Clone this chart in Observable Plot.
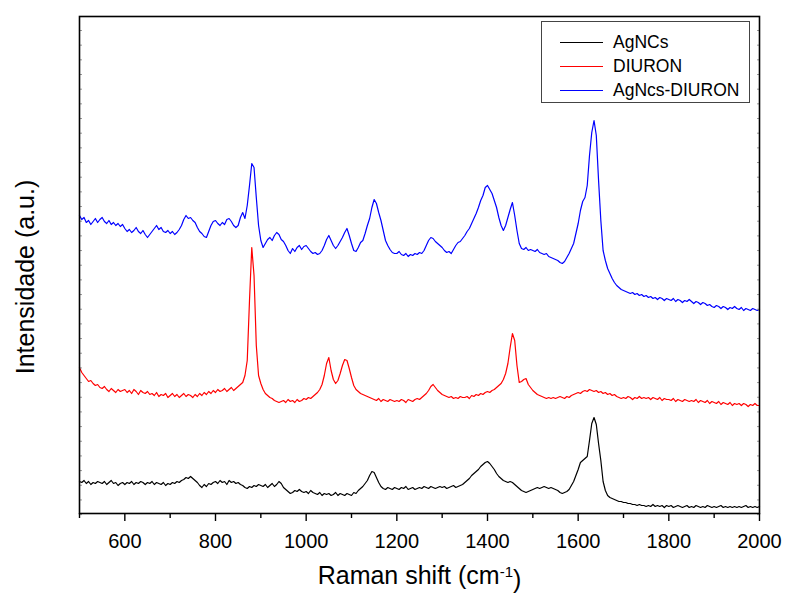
<!DOCTYPE html>
<html><head><meta charset="utf-8">
<script src="https://cdn.jsdelivr.net/npm/d3@7"></script>
<script src="https://cdn.jsdelivr.net/npm/@observablehq/plot@0.6"></script>
<style>
body{margin:0;background:#fff;font-family:"Liberation Sans",Arial,sans-serif;}
#wrap{position:relative;width:786px;height:595px;}
#legend{position:absolute;left:541px;top:21px;width:209px;height:82px;border:1px solid #444;background:#fff;box-sizing:border-box;}
.row{position:absolute;left:0;height:20px;display:flex;align-items:center;font-size:17.5px;color:#000;}
.sw{display:inline-block;width:43px;height:0;border-top:1px solid;margin-left:18px;margin-right:10px;}
</style>
</head><body>
<div id="wrap"><div id="chart"></div><div id="legend"></div></div>
<script>
// Raman shift grid (cm-1)
const shift = [500,505,510,515,520,525,530,535,540,545,550,555,560,565,570,575,580,585,590,595,
600,605,610,615,620,625,630,635,640,645,650,655,660,665,670,675,680,685,690,695,
700,705,710,715,720,725,730,735,740,745,750,755,760,765,770,775,780,785,790,795,
800,805,810,815,820,825,830,835,840,845,850,855,860,865,870,875,880,885,890,895,
900,905,910,915,920,925,930,935,940,945,950,955,960,965,970,975,980,985,990,995,
1000,1005,1010,1015,1020,1025,1030,1035,1040,1045,1050,1055,1060,1065,1070,1075,1080,1085,1090,1095,
1100,1105,1110,1115,1120,1125,1130,1135,1140,1145,1150,1155,1160,1165,1170,1175,1180,1185,1190,1195,
1200,1205,1210,1215,1220,1225,1230,1235,1240,1245,1250,1255,1260,1265,1270,1275,1280,1285,1290,1295,
1300,1305,1310,1315,1320,1325,1330,1335,1340,1345,1350,1355,1360,1365,1370,1375,1380,1385,1390,1395,
1400,1405,1410,1415,1420,1425,1430,1435,1440,1445,1450,1455,1460,1465,1470,1475,1480,1485,1490,1495,
1500,1505,1510,1515,1520,1525,1530,1535,1540,1545,1550,1555,1560,1565,1570,1575,1580,1585,1590,1595,
1600,1605,1610,1615,1620,1625,1630,1635,1640,1645,1650,1655,1660,1665,1670,1675,1680,1685,1690,1695,
1700,1705,1710,1715,1720,1725,1730,1735,1740,1745,1750,1755,1760,1765,1770,1775,1780,1785,1790,1795,
1800,1805,1810,1815,1820,1825,1830,1835,1840,1845,1850,1855,1860,1865,1870,1875,1880,1885,1890,1895,
1900,1905,1910,1915,1920,1925,1930,1935,1940,1945,1950,1955,1960,1965,1970,1975,1980,1985,1990,1995,2000];

// AgNCs (a.u.)
const agncs = [34,33,35,32,34,31,33,32,34,33, 32,34,31,33,35,32,33,30,32,33,
31,33,32,34,31,33,32,34,33,31, 33,32,34,31,33,32,31,33,30,32,
31,33,32,34,33,35,36,38,37,39, 37,35,33,30,28,31,29,32,31,33,
34,32,35,33,34,31,35,33,34,32, 33,31,30,28,27,29,28,30,29,31,
30,29,31,28,30,32,29,31,34,32, 28,26,24,22,23,25,24,26,24,23,
24,22,25,23,22,21,23,20,22,21, 22,20,21,23,20,22,21,20,22,21,
20,23,22,25,27,29,32,35,40,44, 43,38,33,29,27,26,28,27,26,28,
27,26,28,27,29,26,27,28,26,27, 28,27,29,28,27,29,28,27,28,29,
28,29,27,28,29,30,28,29,30,31, 33,35,37,40,42,44,46,49,51,53,
54,52,49,46,42,39,37,35,34,33, 34,33,31,29,27,25,24,23,24,25,
26,27,28,27,28,29,28,27,28,27, 26,25,23,22,23,24,26,30,34,40,
46,53,55,57,59,75,92,98,91,72, 55,34,25,20,18,17,16,15,14,14,
13,13,12,12,11,11,10,11,10,10, 9,10,9,11,9,10,9,10,8,10,
9,10,8,9,10,9,8,9,10,8, 9,8,10,9,8,9,8,10,9,8,
9,8,9,10,8,9,8,9,8,9, 8,9,8,9,10,8,9,8,9,8, 9];

// DIURON (a.u.)
const diuron = [148,143,140,137,134,135,132,130,131,128, 127,129,126,124,127,125,123,126,124,125,
126,123,125,122,126,124,121,125,123,122, 124,121,122,120,123,119,121,120,122,118,
120,122,119,121,118,120,122,119,121,120, 118,121,119,122,120,123,121,124,122,125,
123,126,124,125,127,124,126,128,125,127, 129,131,133,140,155,215,268,240,170,140,
132,126,122,120,118,117,115,114,113,114, 115,113,116,114,115,113,116,114,115,117,
116,118,117,119,121,123,126,131,140,152, 158,145,136,132,135,142,150,156,155,147,
138,130,126,124,122,121,120,119,118,117, 116,115,117,114,116,115,114,116,115,114,
115,114,116,115,113,116,115,114,116,117, 116,118,120,122,125,129,131,128,125,123,
121,120,119,118,119,117,118,117,119,118, 118,119,117,120,119,121,120,122,121,123,
124,123,125,126,128,130,132,136,142,152, 168,182,175,150,133,134,136,137,131,128,
125,123,121,120,119,118,117,118,117,118, 117,118,119,118,117,119,118,120,121,122,
123,122,124,125,124,126,125,124,125,123, 124,122,123,121,122,120,121,119,118,117,
118,117,119,118,116,118,117,119,117,118, 117,118,116,118,117,116,118,115,117,116,
116,115,117,114,116,115,114,116,115,114, 115,114,116,113,115,114,113,115,112,114,
113,112,114,111,113,112,111,113,110,112, 111,112,110,112,111,109,111,110,112,110, 110];

// AgNcs-DIURON (a.u.)
const agncsDiuron = [300,296,298,293,295,291,294,297,293,296, 298,294,292,295,291,293,290,292,289,291,
287,284,286,283,285,288,284,282,285,281, 278,281,284,287,290,286,288,284,283,285,
282,284,281,283,286,290,296,300,297,298, 295,293,288,284,282,279,278,284,290,294,
295,292,290,293,291,296,297,294,290,288, 290,298,303,297,310,330,352,348,318,290,
275,268,272,276,278,275,280,283,281,276, 274,270,265,262,267,264,268,270,266,269,
270,267,264,262,263,261,262,265,270,276, 280,275,270,267,270,274,278,283,287,280,
272,265,264,268,273,275,282,290,297,308, 316,312,303,295,285,275,270,266,263,262,
262,264,261,260,262,259,261,260,262,261, 263,262,265,270,275,278,277,274,272,270,
268,265,263,264,262,266,270,273,274,277, 280,284,287,292,297,302,308,315,320,328,
330,326,322,315,308,298,290,285,290,298, 306,313,300,285,272,267,266,268,265,266,
265,264,266,263,262,261,262,259,258,257, 256,255,253,252,254,258,262,267,272,282,
292,305,314,318,330,360,383,395,380,335, 295,265,255,247,242,237,233,230,228,226,
225,224,223,222,223,221,222,220,221,219, 220,218,219,217,218,216,218,217,215,217,
216,215,217,214,216,215,213,215,214,216, 214,212,214,213,211,213,212,210,211,209,
208,210,209,207,209,208,206,208,207,209, 207,206,208,205,207,206,205,207,206,205, 206];

const seriesNames = ["AgNCs","DIURON","AgNcs-DIURON"];
const seriesColors = ["#000000","#ff0000","#0000ff"];
const xMajorTicks = [600,800,1000,1200,1400,1600,1800,2000];
const xMinorTicks = [500,700,900,1100,1300,1500,1700,1900];
const yMinorTicks = d3.range(485, 0, -14.67);
const xTitle = "Raman shift (cm-1)";
const yTitle = "Intensidade (a.u.)";

const rows = (vals) => shift.map((x, i) => ({x, y: vals[i]}));
const allSeries = [agncs, diuron, agncsDiuron];

const font = '"Liberation Sans", Arial, sans-serif';
const chart = Plot.plot({
  width: 786, height: 595,
  marginLeft: 79, marginRight: 27, marginTop: 16, marginBottom: 82,
  style: {fontFamily: font, color: "#000", background: "#fff"},
  x: {domain: [500, 2000]},
  y: {domain: [2, 499]},
  marks: [
    ...allSeries.map((s, k) => Plot.line(rows(s), {x: "x", y: "y", stroke: seriesColors[k], strokeWidth: 1.2})),
    Plot.axisY(yMinorTicks, {anchor: "left", tickSize: -3, tickFormat: () => "", stroke: "#999", label: null}),
    Plot.axisY(yMinorTicks, {anchor: "right", tickSize: -3, tickFormat: () => "", stroke: "#999", label: null}),
    Plot.axisX(xMinorTicks, {tickSize: 5, tickFormat: () => "", strokeWidth: 1.4, label: null}),
    Plot.axisX(xMajorTicks, {tickSize: 8, tickPadding: 12, fontSize: 20, strokeWidth: 1.4, label: null, tickFormat: d => String(d)}),
    Plot.text([yTitle], {text: d => d, frameAnchor: "left", rotate: -90, dx: -54, dy: 12, fontSize: 25, textAnchor: "middle", fill: "#000"}),
    Plot.text([xTitle], {text: d => d, frameAnchor: "bottom", dy: 70, fontSize: 25, textAnchor: "middle", fill: "#000", className: "xtitle"}),
    Plot.frame({stroke: "#000", strokeWidth: 1.6})
  ]
});
document.getElementById("chart").appendChild(chart);

// render the "-1" of cm-1 as a superscript
const ns = "http://www.w3.org/2000/svg";
chart.querySelectorAll("text").forEach(t => {
  if (t.textContent === xTitle) {
    t.textContent = "";
    const a = document.createElementNS(ns, "tspan"); a.textContent = "Raman shift (cm";
    const b = document.createElementNS(ns, "tspan"); b.textContent = "-1"; b.setAttribute("dy", "-0.45em"); b.setAttribute("font-size", "15");
    const c = document.createElementNS(ns, "tspan"); c.textContent = ")"; c.setAttribute("dy", "0.45em");
    t.append(a, b, c);
  }
});

const leg = document.getElementById("legend");
const rowTops = [10, 34, 58];
seriesNames.forEach((name, k) => {
  const r = document.createElement("div");
  r.className = "row";
  r.style.top = rowTops[k] + "px";
  const sw = document.createElement("span");
  sw.className = "sw";
  sw.style.borderTopColor = seriesColors[k];
  r.appendChild(sw);
  r.appendChild(document.createTextNode(name));
  leg.appendChild(r);
});
</script>
</body></html>
